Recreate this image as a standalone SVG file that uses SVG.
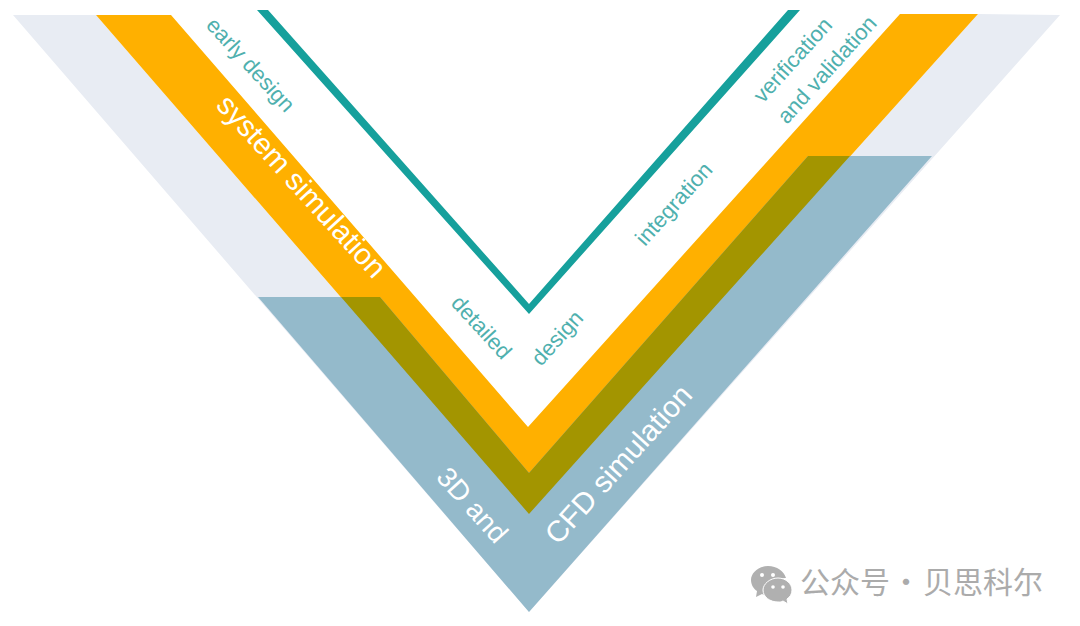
<svg xmlns="http://www.w3.org/2000/svg" width="1080" height="626" viewBox="0 0 1080 626">
<style>
.s{font-family:"Liberation Sans",Arial,sans-serif}
.t{fill:#4FB0AE;font-size:22px}
.w{fill:#fff;font-size:29.6px}
.c{font-family:"Noto Sans CJK SC","Noto Sans",sans-serif;fill:#ababab;font-size:30px}
</style>
<rect width="1080" height="626" fill="#fff"/>
<polygon id="band-light" fill="#E8ECF3" points="13,15 96,15 529,514 978,14 1060,15 529,612"/>
<polygon id="band-orange" fill="#FFB000" points="96,15 171,15 528,427 900,14 978,14 529,514"/>
<polygon id="band-blue" fill="#94BACB" points="258,297 380,297 529,473 808,156 932,156 529,612"/>
<polygon id="band-overlap" fill="#A39500" points="341,297 380,297 529,473 808,156 850,156 529,514"/>
<polygon id="v-line" fill="#16A09C" points="257,10 268,10 529,304 788,10 800,10 529,314"/>
<g class="s">
<text class="t" transform="translate(205,26) rotate(47.5)">early design</text>
<text class="w" transform="translate(215,106) rotate(47.7)">system simulation</text>
<text class="t" transform="translate(450,304) rotate(47.5)">detailed</text>
<text class="t" transform="translate(541,367) rotate(-48)">design</text>
<text class="t" transform="translate(645,247) rotate(-48)">integration</text>
<text class="t" transform="translate(763,104) rotate(-48)">verification</text>
<text class="t" transform="translate(787,125) rotate(-48)">and validation</text>
<text class="w" style="font-size:28px" transform="translate(435,478) rotate(48)">3D and</text>
<text class="w" transform="translate(558,546) rotate(-47.8)">CFD simulation</text>
</g>
<g id="watermark">
<path fill="#b0b0b0" d="M768,566c-10,0-17,7-17,14c0,5,3,9,6,11l-1,6l6,-3c2,1,4,1,6,1c-1,-8,6,-17,18,-17c-2,-7,-9,-12,-18,-12z"/>
<path fill="#b0b0b0" stroke="#fff" stroke-width="1" d="M778,578c-8,0-15,6-15,12c0,7,7,12,15,12c2,0,3,0,5,-1l5,3l-1,-5c3,-2,5,-5,5,-9c0,-6,-6,-12,-14,-12z"/>
<circle cx="762" cy="575" r="2" fill="#fff"/><circle cx="773" cy="575" r="2" fill="#fff"/>
<circle cx="773" cy="587" r="1.8" fill="#fff"/><circle cx="783" cy="587" r="1.8" fill="#fff"/>
<text class="c" x="800" y="593">公众号</text>
<text class="c" x="891" y="593">·</text>
<text class="c" x="923" y="593">贝思科尔</text>
</g>
</svg>
